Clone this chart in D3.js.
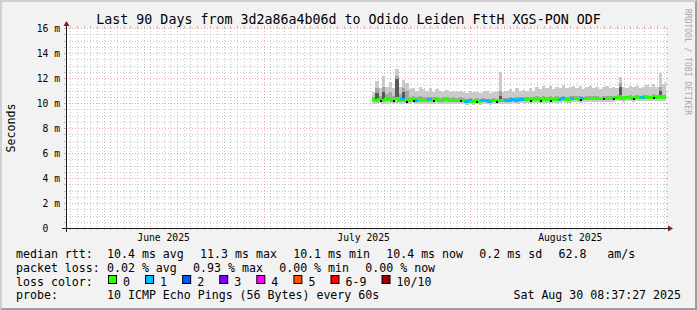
<!DOCTYPE html>
<html>
<head>
<meta charset="utf-8">
<script src="https://cdn.jsdelivr.net/npm/d3@7/dist/d3.min.js"></script>
<style>
body { margin: 0; background: #f2f2f2; }
svg { display: block; }
text { font-family: 'DejaVu Sans Mono', monospace; white-space: pre; }
</style>
</head>
<body>
<div id="chart"></div>
<script>
// ---- data ----
var title = 'Last 90 Days from 3d2a86a4b06d to Odido Leiden FttH XGS-PON ODF'
var rangeEnd = Date.UTC(2025, 7, 30, 8, 37, 27)
var rangeDays = 90
var dataStart = Date.UTC(2025, 6, 17, 6, 0, 0)
var stepHours = 12

// median rtt in ms, one value per 12h
var median = [10.26, 10.24, 10.28, 10.22, 10.26, 10.3, 10.24, 10.34, 10.22, 10.26, 10.2, 10.24, 10.28, 10.22, 10.26, 10.24, 10.2, 10.26, 10.24, 10.28, 10.22, 10.24, 10.26, 10.22, 10.2, 10.24, 10.22, 10.18,
	10.16, 10.18, 10.14, 10.18, 10.16, 10.2, 10.18, 10.16, 10.2, 10.18, 10.22, 10.2, 10.24,
	10.22, 10.26, 10.24, 10.28, 10.26, 10.3, 10.26, 10.28, 10.3, 10.26, 10.3, 10.32, 10.28, 10.3, 10.32, 10.3, 10.34, 10.3, 10.32, 10.34,
	10.36, 10.32, 10.38, 10.34, 10.36, 10.4, 10.36, 10.38, 10.4, 10.36, 10.4, 10.38, 10.42, 10.5, 10.4,
	10.42, 10.44, 10.4, 10.46, 10.42, 10.44, 10.46, 10.42, 10.48, 10.46, 10.5, 10.44, 10.48]
// highest ping (outer smoke)
var hi = [10.9, 11.8, 11.2, 12.2, 11.3, 11.7, 11.2, 12.7, 11.3, 11.85, 11.6, 11.1, 11.2, 11.0, 11.3, 11.1, 11.0, 11.2, 10.9, 11.1, 11.0, 10.9, 11.05, 10.9, 11.0, 10.85, 10.95, 10.9,
	10.8, 10.95, 10.85, 10.9, 10.8, 10.85, 10.95, 10.8, 10.9, 10.85, 12.5, 10.9, 10.95,
	11.1, 10.9, 11.2, 11.0, 11.05, 11.0, 11.2, 11.0, 11.3, 11.1, 11.35, 11.2, 11.4, 11.1, 11.3, 11.2, 11.45, 11.2, 11.3, 11.4,
	11.2, 11.35, 11.1, 11.3, 11.4, 11.2, 11.3, 11.1, 11.25, 11.4, 11.2, 11.3, 11.2, 12.1, 11.3,
	11.2, 11.35, 11.25, 11.4, 11.2, 11.3, 11.45, 11.25, 11.5, 11.3, 12.4, 11.5, 11.7]
// second highest ping (inner smoke)
var hi2 = [10.5, 11.2, 10.6, 11.3, 10.7, 10.9, 10.6, 12.2, 10.7, 11.2, 11.0, 10.5, 10.6, 10.45, 10.6, 10.5, 10.45, 10.5, 10.45, 10.5, 10.4, 10.45, 10.5, 10.4, 10.45, 10.4, 10.45, 10.4,
	10.35, 10.4, 10.35, 10.4, 10.35, 10.4, 10.35, 10.35, 10.4, 10.35, 11.0, 10.4, 10.4,
	10.45, 10.4, 10.5, 10.45, 10.45, 10.45, 10.5, 10.45, 10.55, 10.45, 10.55, 10.5, 10.55, 10.45, 10.55, 10.5, 10.55, 10.5, 10.55, 10.55,
	10.55, 10.55, 10.5, 10.55, 10.6, 10.55, 10.55, 10.5, 10.55, 10.6, 10.55, 10.6, 10.55, 11.6, 10.55,
	10.6, 10.65, 10.55, 10.65, 10.6, 10.65, 10.65, 10.6, 10.7, 10.65, 11.3, 10.65, 10.75]
// lowest ping
var lo = [9.96, 9.94, 9.98, 9.92, 9.96, 9.98, 9.94, 10.0, 9.92, 9.96, 9.92, 9.94, 9.98, 9.94, 9.96, 9.94, 9.92, 9.96, 9.94, 9.98, 9.92, 9.94, 9.96, 9.92, 9.9, 9.94, 9.92, 9.9,
	9.88, 9.9, 9.87, 9.9, 9.88, 9.92, 9.9, 9.88, 9.92, 9.9, 9.94, 9.92, 9.96,
	9.94, 9.98, 9.96, 10.0, 9.98, 10.02, 9.98, 10.0, 10.02, 9.98, 10.02, 10.04, 10.0, 10.02, 10.04, 10.02, 10.06, 10.02, 10.04, 10.06,
	10.08, 10.04, 10.1, 10.06, 10.08, 10.12, 10.08, 10.1, 10.12, 10.08, 10.12, 10.1, 10.14, 10.18, 10.12,
	10.14, 10.16, 10.12, 10.18, 10.14, 10.16, 10.18, 10.14, 10.2, 10.18, 10.2, 10.16, 10.2]
// lost pings out of 10
var loss = [0, 0, 0, 0, 0, 0, 0, 0, 0, 1,
	0, 0, 0, 1, 0, 0, 0, 1, 0, 0,
	0, 0, 0, 0, 0, 0, 0, 0, 1, 1,
	0, 0, 0, 1, 1, 1, 0, 0, 0, 0,
	1, 1, 1, 1, 1, 1, 0, 0, 0, 0,
	0, 0, 0, 0, 0, 0, 1, 1, 0, 0,
	1, 0, 0, 1, 0, 0, 0, 0, 0, 0,
	0, 0, 0, 0, 0, 0, 0, 0, 0, 0,
	0, 1, 0, 0, 0, 0, 0, 0, 0]
// dense dark smoke columns
var darkIdx = [1, 3, 7, 9, 38, 74, 86]
var darkTop = [10.8, 10.9, 11.9, 10.9, 10.6, 11.3, 10.95]
// black specks on the median
var blackIdx = [2, 6, 10, 12, 18, 26, 31, 37, 47, 50, 53, 62, 69, 72, 78, 84]

var yTicks = [0, 2, 4, 6, 8, 10, 12, 14, 16]
var yTickLabels = ['0\u00a0\u00a0', '2 m', '4 m', '6 m', '8 m', '10 m', '12 m', '14 m', '16 m']
var monthLabels = ['June 2025', 'July 2025', 'August 2025']
var lossLabels = ['0', '1', '2', '3', '4', '5', '6-9', '10/10']
var lossColors = ['#26ff00', '#00b8ff', '#0059ff', '#7e00ff', '#ff00ff', '#ff5500', '#ff0000', '#a00000']
var smokeColors = ['#cacaca', '#a4a4a4', '#585858']
var rttStats = ['10.4 ms avg', '11.3 ms max', '10.1 ms min', '10.4 ms now', '0.2 ms sd', '62.8   am/s']
var lossStats = ['0.02 % avg', '0.93 % max', '0.00 % min', '0.00 % now']
var probeText = '10 ICMP Echo Pings (56 Bytes) every 60s'
var stampText = 'Sat Aug 30 08:37:27 2025'

// ---- layout ----
var W = 697, H = 310
var X0 = 66, X1 = 666, Y0 = 228, Y1 = 28
var cw = 6.98

var rangeStart = rangeEnd - rangeDays * 864e5
var x = d3.scaleUtc().domain([new Date(rangeStart), new Date(rangeEnd)]).range([X0, X1])
var y = d3.scaleLinear().domain([0, 16]).range([Y0, Y1])

var rows = median.map(function (m, i) {
	return { t: new Date(dataStart + i * stepHours * 36e5), m: m, lo: lo[i], hi: hi[i], hi2: hi2[i], loss: loss[i] }
})
var last = rows[rows.length - 1]
var rowsEnd = rows.concat([Object.assign({}, last, { t: new Date(last.t.getTime() + stepHours * 36e5) })])

var svg = d3.select('#chart').append('svg')
	.attr('width', W)
	.attr('height', H)

svg.append('rect').attr('width', W).attr('height', H).attr('fill', '#f2f2f2')
// 3d frame
svg.append('polygon')
	.attr('points', [[0, H], [2, H - 2], [2, 2], [W - 2, 2], [W, 0], [0, 0]].join(' '))
	.attr('fill', '#cfcfcf')
svg.append('polygon')
	.attr('points', [[2, H - 2], [W - 2, H - 2], [W - 2, 2], [W, 0], [W, H], [0, H]].join(' '))
	.attr('fill', '#9e9e9e')

svg.append('rect')
	.attr('x', X0).attr('y', Y1)
	.attr('width', X1 - X0).attr('height', Y0 - Y1)
	.attr('fill', '#fff')

svg.append('defs').append('clipPath').attr('id', 'plot')
	.append('rect')
	.attr('x', X0).attr('y', Y1)
	.attr('width', X1 - X0).attr('height', Y0 - Y1)

// ---- grid ----
var gridCol = 'rgba(143,143,143,0.5)', mgridCol = 'rgba(222,79,79,0.5)'
var grid = svg.append('g').attr('stroke-width', 1).attr('shape-rendering', 'crispEdges')

var minorY = d3.range(0, 16.01, 0.5).filter(function (v) { return v % 2 !== 0 })
function hline(v, col) {
	var yy = Math.round(y(v)) + 0.5
	grid.append('line').attr('x1', X0).attr('x2', X1).attr('y1', yy).attr('y2', yy)
		.attr('stroke', col).attr('stroke-dasharray', '1,2')
	grid.append('line').attr('x1', X0 - 2).attr('x2', X0).attr('y1', yy).attr('y2', yy).attr('stroke', col)
	grid.append('line').attr('x1', X1).attr('x2', X1 + 2).attr('y1', yy).attr('y2', yy).attr('stroke', col)
}
function vline(t, col) {
	var xx = Math.round(x(t)) + 0.5
	grid.append('line').attr('x1', xx).attr('x2', xx).attr('y1', Y1).attr('y2', Y0)
		.attr('stroke', col).attr('stroke-dasharray', '1,2')
	grid.append('line').attr('x1', xx).attr('x2', xx).attr('y1', Y1 - 2).attr('y2', Y1).attr('stroke', col)
	grid.append('line').attr('x1', xx).attr('x2', xx).attr('y1', Y0).attr('y2', Y0 + 2).attr('stroke', col)
}
minorY.forEach(function (v) { hline(v, gridCol) })
yTicks.forEach(function (v) { hline(v, mgridCol) })

var months = d3.utcMonth.range(d3.utcMonth.floor(new Date(rangeStart)), new Date(rangeEnd))
var monthStarts = months.filter(function (m) { return m >= rangeStart })
d3.utcDay.range(new Date(rangeStart), new Date(rangeEnd))
	.filter(function (d) { return d.getUTCDate() !== 1 })
	.forEach(function (d) { vline(d, gridCol) })
monthStarts.forEach(function (d) { vline(d, mgridCol) })

// ---- smoke ----
var plot = svg.append('g').attr('clip-path', 'url(#plot)').attr('shape-rendering', 'crispEdges')

var outer = d3.area().curve(d3.curveStepAfter)
	.x(function (d) { return x(d.t) })
	.y0(function (d) { return y(d.lo) })
	.y1(function (d) { return y(d.hi) })
var inner = d3.area().curve(d3.curveStepAfter)
	.x(function (d) { return x(d.t) })
	.y0(function (d) { return y(d.m) })
	.y1(function (d) { return y(d.hi2) })

plot.append('path').attr('d', outer(rowsEnd)).attr('fill', smokeColors[0])
plot.append('path').attr('d', inner(rowsEnd)).attr('fill', smokeColors[1])

plot.selectAll('rect.dark')
	.data(darkIdx)
	.join('rect')
	.attr('class', 'dark')
	.attr('x', function (i) { return x(rowsEnd[i].t) })
	.attr('width', function (i) { return x(rowsEnd[i + 1].t) - x(rowsEnd[i].t) })
	.attr('y', function (i, k) { return y(darkTop[k]) })
	.attr('height', function (i, k) { return y(rows[i].m) - y(darkTop[k]) })
	.attr('fill', smokeColors[2])

// ---- median, coloured by loss ----
var medLine = d3.line()
	.x(function (p) { return x(p[0]) })
	.y(function (p) { return y(p[1]) })

var segs = rows.map(function (d, i) {
	var prev = i > 0 ? rows[i - 1].m : d.m
	return { c: lossColors[d.loss], pts: [[d.t, prev], [d.t, d.m], [rowsEnd[i + 1].t, d.m]] }
})

plot.selectAll('path.med')
	.data(segs)
	.join('path')
	.attr('class', 'med')
	.attr('d', function (s) { return medLine(s.pts) })
	.attr('fill', 'none')
	.attr('stroke', function (s) { return s.c })
	.attr('stroke-width', 3)

plot.selectAll('rect.speck')
	.data(blackIdx)
	.join('rect')
	.attr('class', 'speck')
	.attr('x', function (i) { return Math.round(x(rows[i].t)) + 1 })
	.attr('y', function (i) { return Math.round(y(rows[i].m)) })
	.attr('width', 2)
	.attr('height', 2)
	.attr('fill', '#000')

// ---- axes ----
var axisCol = '#1f1f1f', arrowCol = '#801f1f'
svg.append('line')
	.attr('x1', X0 - 4).attr('x2', X1 + 4).attr('y1', Y0 + 0.5).attr('y2', Y0 + 0.5)
	.attr('stroke', axisCol)
svg.append('line')
	.attr('x1', X0 + 0.5).attr('x2', X0 + 0.5).attr('y1', Y0 + 4).attr('y2', Y1 - 4)
	.attr('stroke', axisCol)
svg.append('polygon')
	.attr('points', [[X1 + 2, Y0 - 2.5], [X1 + 2, Y0 + 3.5], [X1 + 7, Y0 + 0.5]].join(' '))
	.attr('fill', arrowCol)
svg.append('polygon')
	.attr('points', [[X0 - 2.5, Y1 - 2], [X0 + 3.5, Y1 - 2], [X0 + 0.5, Y1 - 7]].join(' '))
	.attr('fill', arrowCol)

// ---- texts ----
svg.append('text')
	.attr('x', W / 2).attr('y', 23.5)
	.attr('text-anchor', 'middle')
	.style('font-size', '13.3px')
	.text(title)

svg.selectAll('text.ylab')
	.data(yTicks)
	.join('text')
	.attr('class', 'ylab')
	.attr('x', 60)
	.attr('y', function (v) { return y(v) + 3.8 })
	.attr('text-anchor', 'end')
	.style('font-size', '9.7px')
	.text(function (v, i) { return yTickLabels[i] })

svg.selectAll('text.xlab')
	.data(months)
	.join('text')
	.attr('class', 'xlab')
	.attr('x', function (m) { return x(d3.utcDay.offset(m, 15)) })
	.attr('y', 241)
	.attr('text-anchor', 'middle')
	.style('font-size', '9.7px')
	.text(function (m, i) { return monthLabels[i] })

svg.append('text')
	.attr('transform', 'translate(14.5,' + (Y0 + Y1) / 2 + ') rotate(-90)')
	.attr('text-anchor', 'middle')
	.style('font-size', '11.6px')
	.text('Seconds')

svg.append('text')
	.attr('transform', 'translate(684.5,9) rotate(90)')
	.attr('fill', '#a6a6a6')
	.attr('textLength', 106)
	.attr('lengthAdjust', 'spacingAndGlyphs')
	.style('font-size', '9.5px')
	.text('RRDTOOL / TOBI OETIKER')

// legend
var legend = svg.append('g').style('font-size', '11.6px')
var gap = 16.3

function statRow(label, items, yy) {
	legend.append('text').attr('x', 16).attr('y', yy).text(label)
	var xx = 107
	items.forEach(function (s) {
		legend.append('text').attr('x', xx).attr('y', yy).text(s)
		xx += s.length * cw + gap
	})
}
statRow('median rtt:', rttStats, 258.3)
statRow('packet loss:', lossStats, 271.8)

legend.append('text').attr('x', 16).attr('y', 285.6).text('loss color:')
var bx = 108
lossLabels.forEach(function (l, i) {
	legend.append('rect')
		.attr('x', bx + 0.5).attr('y', 275.5)
		.attr('width', 8).attr('height', 8)
		.attr('fill', lossColors[i])
		.attr('stroke', '#000')
	legend.append('text').attr('x', bx + 15).attr('y', 285.6).text(l)
	bx += 15 + l.length * cw + 15.1
})

legend.append('text').attr('x', 16).attr('y', 299.3).text('probe:')
legend.append('text').attr('x', 107).attr('y', 299.3).text(probeText)
legend.append('text').attr('x', 681).attr('y', 299.3).attr('text-anchor', 'end').text(stampText)
</script>
</body>
</html>
